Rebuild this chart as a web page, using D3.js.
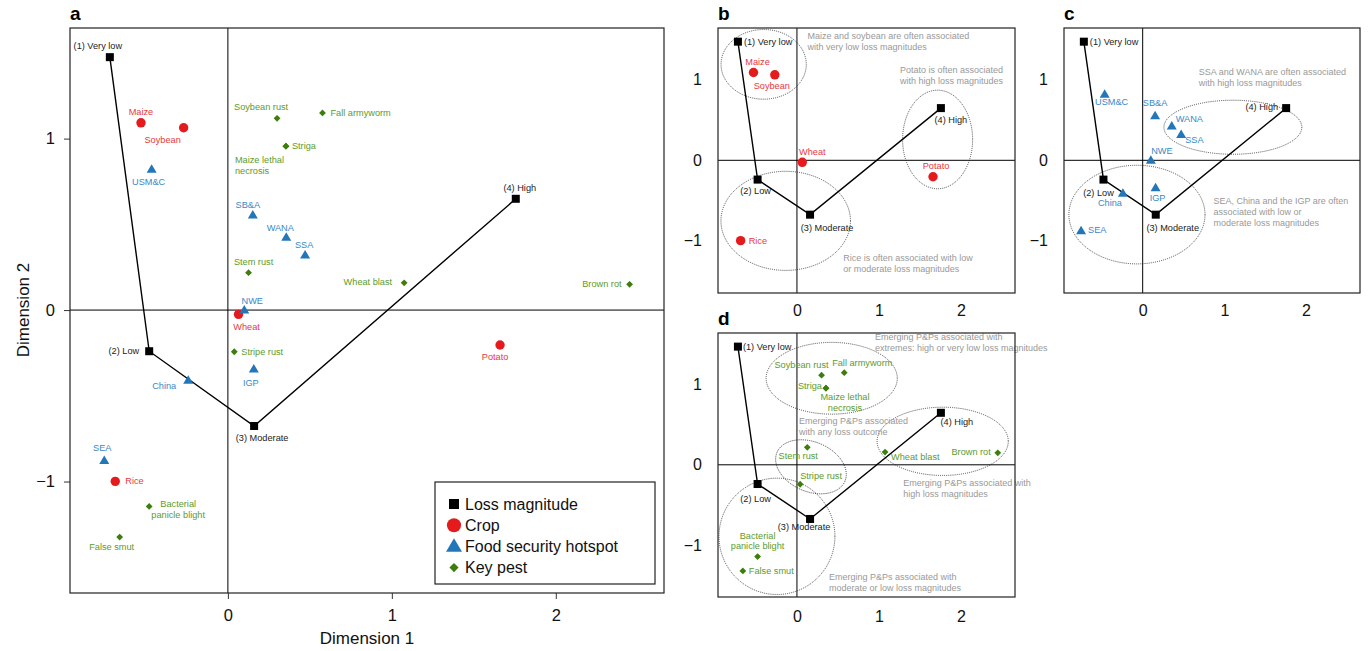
<!DOCTYPE html>
<html>
<head>
<meta charset="utf-8">
<script src="https://cdn.jsdelivr.net/npm/d3@7"></script>
<style>
body { margin: 0; background: #fff; }
svg { font-family: "Liberation Sans", Arial, Helvetica, sans-serif; }
</style>
</head>
<body>
<svg id="chart" width="1368" height="651"></svg>
<script>
// loss magnitude levels (joined by a line)
var lossNames = ["(1) Very low", "(2) Low", "(3) Moderate", "(4) High"];
var lossX = [-0.72, -0.48, 0.16, 1.756];
var lossY = [1.475, -0.24, -0.676, 0.649];

var cropNames = ["Maize", "Soybean", "Wheat", "Potato", "Rice"];
var cropX = [-0.53, -0.27, 0.065, 1.66, -0.687];
var cropY = [1.092, 1.063, -0.025, -0.204, -0.999];

var hotspotNames = ["USM&C", "SB&A", "WANA", "SSA", "NWE", "China", "IGP", "SEA"];
var hotspotX = [-0.465, 0.152, 0.356, 0.471, 0.10, -0.242, 0.158, -0.754];
var hotspotY = [0.82, 0.554, 0.424, 0.321, 0.0, -0.41, -0.344, -0.878];

var pestNames = ["Soybean rust", "Fall armyworm", "Striga", "Maize lethal necrosis", "Stem rust",
                 "Wheat blast", "Brown rot", "Stripe rust", "Bacterial panicle blight", "False smut"];
var pestX = [0.30, 0.577, 0.354, 0.354, 0.126, 1.075, 2.45, 0.039, -0.48, -0.66];
var pestY = [1.118, 1.15, 0.956, 0.956, 0.218, 0.159, 0.15, -0.243, -1.145, -1.324];

var xTicks = [0, 1, 2];
var yTicks = [-1, 0, 1];
var legendNames = ["Loss magnitude", "Crop", "Food security hotspot", "Key pest"];

// groupings drawn in b, c, d: [cx, cy, rx, ry, tilt in degrees] in dimension units
var ellipsesB = [[-0.406, 1.193, 0.52, 0.433, 0], [1.716, 0.259, 0.427, 0.613, 0], [-0.137, -0.753, 0.79, 0.616, 0]];
var ellipsesC = [[1.104, 0.411, 0.844, 0.336, 0], [-0.07, -0.675, 0.833, 0.613, 0]];
var ellipsesD = [[0.424, 1.08, 0.80, 0.448, 0], [0.171, -0.025, 0.45, 0.31, 23],
                 [1.778, 0.293, 0.80, 0.426, 0], [-0.244, -0.893, 0.707, 0.726, 0]];

var notesB = [["Maize and soybean are often associated", "with very low loss magnitudes"],
              ["Potato is often associated", "with high loss magnitudes"],
              ["Rice is often associated with low", "or moderate loss magnitudes"]];
var notesC = [["SSA and WANA are often associated", "with high loss magnitudes"],
              ["SEA, China and the IGP are often", "associated with low or", "moderate loss magnitudes"]];
var notesD = [["Emerging P&Ps associated with", "extremes: high or very low loss magnitudes"],
              ["Emerging P&Ps associated", "with any loss outcome"],
              ["Emerging P&Ps associated with", "high loss magnitudes"],
              ["Emerging P&Ps associated with", "moderate or low loss magnitudes"]];

// ---- layout / style ----
var xDomain = [-0.963, 2.66];
var yDomain = [-1.65, 1.645];
var col = {
    loss: "#000", lossText: "#222",
    crop: "#e41a1c", cropText: "#e8383d",
    hot: "#2377b8", hotText: "#3a88c6",
    pest: "#3c7d0c", pestText: "#5c9b2c",
    note: "#999"
};
var splitLines = {
    "Maize lethal necrosis": ["Maize lethal", "necrosis"],
    "Bacterial panicle blight": ["Bacterial", "panicle blight"]
};

// label offsets in px: [dx, dy, anchor]
var labelsA = {
    "(1) Very low": [-12, -8, "middle"], "(2) Low": [-10, 3, "end"],
    "(3) Moderate": [8, 15, "middle"], "(4) High": [4, -8, "middle"],
    "Maize": [0, -8, "middle"], "Soybean": [-21, 15, "middle"], "Wheat": [8, 16, "middle"],
    "Potato": [-5, 15, "middle"], "Rice": [10, 3, "start"],
    "USM&C": [-3, 16, "middle"], "SB&A": [-5, -7, "middle"], "WANA": [-6, -6, "middle"],
    "SSA": [-1, -7, "middle"], "NWE": [8, -6, "middle"], "China": [-12, 9, "end"],
    "IGP": [-3, 17, "middle"], "SEA": [-2, -10, "middle"],
    "Soybean rust": [-16, -8, "middle"], "Fall armyworm": [8, 3, "start"], "Striga": [6, 3, "start"],
    "Maize lethal necrosis": [-51, 17, "start"], "Stem rust": [5, -8, "middle"],
    "Wheat blast": [-12, 2, "end"], "Brown rot": [-8, 3, "end"], "Stripe rust": [7, 3, "start"],
    "Bacterial panicle blight": [29, 1, "middle"], "False smut": [-8, 13, "middle"]
};
var labelsB = {
    "(1) Very low": [6, 3, "start"], "(2) Low": [-2, 14, "middle"],
    "(3) Moderate": [17, 16, "middle"], "(4) High": [10, 15, "middle"],
    "Maize": [4, -7, "middle"], "Soybean": [-3, 14, "middle"], "Wheat": [10, -7, "middle"],
    "Potato": [3, -8, "middle"], "Rice": [8, 3, "start"]
};
var labelsC = {
    "(1) Very low": [6, 3, "start"], "(2) Low": [-5, 16, "middle"],
    "(3) Moderate": [17, 16, "middle"], "(4) High": [-8, 2, "end"],
    "USM&C": [7, 11, "middle"], "SB&A": [0, -10, "middle"], "WANA": [4, -4, "start"],
    "SSA": [4, 9, "start"], "NWE": [11, -6, "middle"], "China": [-13, 13, "middle"],
    "IGP": [2, 13, "middle"], "SEA": [7, 2, "start"]
};
var labelsD = {
    "(1) Very low": [5, 3, "start"], "(2) Low": [-2, 18, "middle"],
    "(3) Moderate": [-6, 11, "middle"], "(4) High": [16, 12, "middle"],
    "Soybean rust": [-20, -7, "middle"], "Fall armyworm": [18, -7, "middle"],
    "Striga": [-4, 1, "end"], "Maize lethal necrosis": [19, 12, "middle"],
    "Stem rust": [-9, 12, "middle"], "Wheat blast": [6, 8, "start"], "Brown rot": [-7, 2, "end"],
    "Stripe rust": [0, -5, "start"], "Bacterial panicle blight": [0, -18, "middle"],
    "False smut": [6, 3, "start"]
};
// note anchors in dimension units (start of first line)
var notePosB = [[0.13, 1.507], [1.256, 1.08], [0.565, -1.254]];
var notePosC = [[0.687, 1.058], [0.866, -0.548]];
var notePosD = [[0.951, 1.557], [0.024, 0.51], [1.296, -0.262], [0.39, -1.441]];

var svg = d3.select("#chart");

function zip(names, xs, ys) {
    return names.map(function(n, i) { return { name: n, x: xs[i], y: ys[i] }; });
}
var loss = zip(lossNames, lossX, lossY);
var crops = zip(cropNames, cropX, cropY);
var hotspots = zip(hotspotNames, hotspotX, hotspotY);
var pests = zip(pestNames, pestX, pestY);

function marker(g, kind, cx, cy, s) {
    s = s || 1;
    if (kind == "loss") {
        g.append("rect").attr("x", cx - 4 * s).attr("y", cy - 4 * s)
            .attr("width", 8 * s).attr("height", 8 * s).attr("fill", col.loss);
    } else if (kind == "crop") {
        g.append("circle").attr("cx", cx).attr("cy", cy).attr("r", 4.7 * s).attr("fill", col.crop);
    } else if (kind == "hot") {
        var h = 8.5 * s, w = 5 * s;
        g.append("path").attr("d", "M" + cx + "," + (cy - h * 0.6) + " L" + (cx + w) + "," + (cy + h * 0.4) +
            " L" + (cx - w) + "," + (cy + h * 0.4) + " Z").attr("fill", col.hot);
    } else {
        var r = 3.4 * s;
        g.append("path").attr("d", "M" + cx + "," + (cy - r) + " L" + (cx + r) + "," + cy +
            " L" + cx + "," + (cy + r) + " L" + (cx - r) + "," + cy + " Z").attr("fill", col.pest);
    }
}

function drawPanel(p) {
    var g = svg.append("g");
    var x = d3.scaleLinear().domain(xDomain).range([p.left, p.left + p.width]);
    var y = d3.scaleLinear().domain(yDomain).range([p.top + p.height, p.top]);

    // zero lines
    g.append("line").attr("x1", x(0)).attr("x2", x(0)).attr("y1", p.top).attr("y2", p.top + p.height)
        .attr("stroke", "#000").attr("stroke-width", 1);
    g.append("line").attr("x1", p.left).attr("x2", p.left + p.width).attr("y1", y(0)).attr("y2", y(0))
        .attr("stroke", "#000").attr("stroke-width", 1);

    // axes
    var xa = g.append("g").attr("transform", "translate(0," + (p.top + p.height) + ")")
        .call(d3.axisBottom(x).tickValues(xTicks).tickSize(p.tick).tickPadding(p.xPad).tickFormat(d3.format("d")));
    var ya = g.append("g").attr("transform", "translate(" + p.left + ",0)")
        .call(d3.axisLeft(y).tickValues(yTicks).tickSize(p.tick).tickPadding(p.yPad).tickFormat(d3.format("d")));
    [xa, ya].forEach(function(a) {
        a.select(".domain").remove();
        a.selectAll("text").attr("font-size", p.tickFont).attr("fill", "#111")
            .attr("font-family", "Liberation Sans, Arial, sans-serif");
        a.selectAll("line").attr("stroke", "#333");
    });

    // ellipses
    (p.ellipses || []).forEach(function(e) {
        g.append("ellipse").attr("cx", 0).attr("cy", 0)
            .attr("transform", "translate(" + x(e[0]) + "," + y(e[1]) + ") rotate(" + e[4] + ")")
            .attr("rx", x(e[0] + e[2]) - x(e[0])).attr("ry", y(e[1]) - y(e[1] + e[3]))
            .attr("fill", "none").attr("stroke", "#222").attr("stroke-width", 0.8)
            .attr("stroke-dasharray", "1,1.1");
    });

    // loss path
    g.append("path").datum(loss)
        .attr("d", d3.line().x(function(d) { return x(d.x); }).y(function(d) { return y(d.y); }))
        .attr("fill", "none").attr("stroke", "#000").attr("stroke-width", 1.4);

    var groups = [{ kind: "loss", data: loss, text: col.lossText }].concat(p.groups);
    groups.forEach(function(gr) {
        gr.data.forEach(function(d) {
            marker(g, gr.kind, x(d.x), y(d.y));
        });
    });
    groups.forEach(function(gr) {
        gr.data.forEach(function(d) {
            var o = p.labels[d.name];
            if (!o) return;
            var lines = splitLines[d.name] || [d.name];
            var t = g.append("text").attr("x", x(d.x) + o[0]).attr("y", y(d.y) + o[1])
                .attr("text-anchor", o[2]).attr("font-size", 9.2).attr("fill", gr.text);
            lines.forEach(function(l, i) {
                t.append("tspan").attr("x", x(d.x) + o[0]).attr("dy", i ? 10.7 : 0).text(l);
            });
        });
    });

    // notes
    (p.notes || []).forEach(function(n, i) {
        var pos = p.notePos[i];
        var t = g.append("text").attr("x", x(pos[0])).attr("y", y(pos[1]))
            .attr("font-size", 9).attr("fill", col.note);
        n.forEach(function(l, j) {
            t.append("tspan").attr("x", x(pos[0])).attr("dy", j ? 11 : 0).text(l);
        });
    });

    // frame
    g.append("rect").attr("x", p.left).attr("y", p.top).attr("width", p.width).attr("height", p.height)
        .attr("fill", "none").attr("stroke", "#222").attr("stroke-width", 1.2);

    // panel letter
    g.append("text").attr("x", p.left).attr("y", p.top - 8).attr("font-size", 19)
        .attr("font-weight", "bold").attr("fill", "#000").text(p.letter);
    return g;
}

// panel a
var ga = drawPanel({
    letter: "a", left: 70, top: 28, width: 594, height: 565, tick: 6, xPad: 10.5, yPad: 9, tickFont: 16.5,
    labels: labelsA,
    groups: [{ kind: "crop", data: crops, text: col.cropText },
             { kind: "hot", data: hotspots, text: col.hotText },
             { kind: "pest", data: pests, text: col.pestText }]
});
ga.append("text").attr("x", 367).attr("y", 644).attr("text-anchor", "middle")
    .attr("font-size", 17).attr("fill", "#111").text("Dimension 1");
ga.append("text").attr("transform", "translate(29,310) rotate(-90)").attr("text-anchor", "middle")
    .attr("font-size", 17).attr("fill", "#111").text("Dimension 2");

// legend
var lg = ga.append("g");
lg.append("rect").attr("x", 435).attr("y", 482).attr("width", 220).attr("height", 102)
    .attr("fill", "#fff").attr("stroke", "#222").attr("stroke-width", 1.2);
var legendKinds = ["loss", "crop", "hot", "pest"];
var legendScales = [1.25, 1.5, 1.6, 1.35];
legendNames.forEach(function(n, i) {
    var cy = 504 + i * 21.2;
    marker(lg, legendKinds[i], 454, cy, legendScales[i]);
    lg.append("text").attr("x", 465).attr("y", cy).attr("dy", "0.36em")
        .attr("font-size", 16).attr("fill", "#111").text(n);
});

drawPanel({
    letter: "b", left: 718, top: 28, width: 297, height: 265, tick: 0, xPad: 11.6, yPad: 16, tickFont: 16,
    labels: labelsB, ellipses: ellipsesB, notes: notesB, notePos: notePosB,
    groups: [{ kind: "crop", data: crops, text: col.cropText }]
});
drawPanel({
    letter: "c", left: 1064, top: 28, width: 296, height: 265, tick: 0, xPad: 11.6, yPad: 16, tickFont: 16,
    labels: labelsC, ellipses: ellipsesC, notes: notesC, notePos: notePosC,
    groups: [{ kind: "hot", data: hotspots, text: col.hotText }]
});
drawPanel({
    letter: "d", left: 718, top: 333, width: 297, height: 264, tick: 0, xPad: 13.6, yPad: 16, tickFont: 16,
    labels: labelsD, ellipses: ellipsesD, notes: notesD, notePos: notePosD,
    groups: [{ kind: "pest", data: pests, text: col.pestText }]
});
</script>
</body>
</html>
